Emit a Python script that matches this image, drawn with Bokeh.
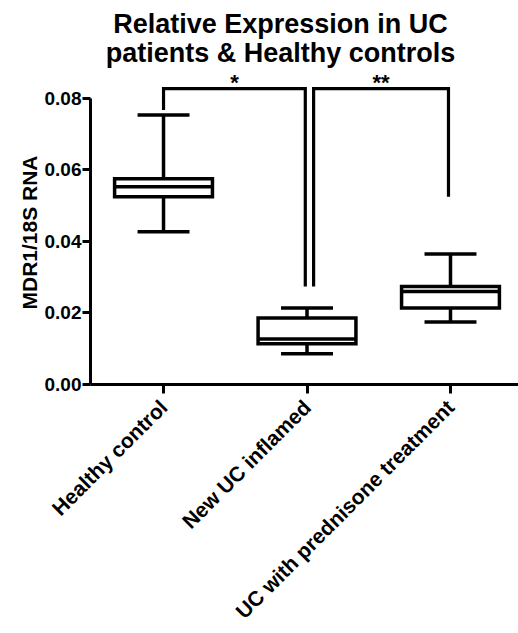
import math
from bokeh.plotting import figure
from bokeh.models import Range1d, FixedTicker, Title
from bokeh.core.properties import value
from bokeh.embed import file_html
from bokeh.resources import INLINE

# ---- data ----
groups = ["Healthy control", "New UC inflamed", "UC with prednisone treatment"]
whisker_low = [0.0427, 0.0086, 0.0175]
q1 = [0.0525, 0.0114, 0.0214]
median = [0.0553, 0.0127, 0.0260]
q3 = [0.0575, 0.0186, 0.0274]
whisker_high = [0.0753, 0.0214, 0.0365]

y_ticks = [0.00, 0.02, 0.04, 0.06, 0.08]
title_lines = ["Relative Expression in UC", "patients & Healthy controls"]
y_label = "MDR1/18S RNA"

# significance brackets (group indices, heights)
sig_from = [0, 1]
sig_to = [1, 2]
sig_text = ["*", "**"]
sig_top = [0.0827, 0.0827]
sig_left_end = [0.0767, 0.0274]
sig_right_end = [0.0274, 0.0525]

FONT = value("Liberation Sans")

xs = [i + 1 for i in range(len(groups))]
BOX_HW = 0.341
CAP_HW = 0.181

p = figure(width=518, height=633, output_backend="svg", toolbar_location=None,
           x_range=Range1d(0.491, 3.474), y_range=Range1d(0, 0.10732),
           min_border_left=90, min_border_right=0, min_border_top=0,
           min_border_bottom=248)
p.outline_line_color = None
p.xgrid.visible = False
p.ygrid.visible = False
p.background_fill_color = "white"

# axes
p.yaxis.ticker = FixedTicker(ticks=y_ticks)
p.yaxis.major_label_overrides = {t: f"{t:.2f}" for t in y_ticks}
p.yaxis.bounds = (y_ticks[0], y_ticks[-1])
p.xaxis.ticker = FixedTicker(ticks=xs)
p.xaxis.major_label_overrides = {x: g for x, g in zip(xs, groups)}
p.xaxis.major_label_orientation = math.pi / 4
for ax in (p.xaxis, p.yaxis):
    ax.axis_line_width = 3
    ax.axis_line_color = "black"
    ax.major_tick_line_width = 3
    ax.major_tick_line_color = "black"
    ax.major_tick_in = 0
    ax.minor_tick_line_color = None
    ax.major_label_text_font = "Liberation Sans"
    ax.major_label_text_font_style = "bold"
    ax.major_label_text_color = "black"
p.yaxis.major_tick_out = 8
p.xaxis.major_tick_out = 9
p.yaxis.major_label_text_font_size = "19px"
p.xaxis.major_label_text_font_size = "21px"
p.yaxis.major_label_standoff = 1
p.xaxis.major_label_standoff = 10

# y axis title, placed like the reference (centred on the axis span)
ytitle = Title(text=y_label, align="left", offset=75, standoff=0,
               vertical_align="middle", text_font="Liberation Sans",
               text_font_style="bold", text_font_size="21px", text_color="black")
p.add_layout(ytitle, "left")

LW = 3.5
# whiskers
p.segment(x0=xs, x1=xs, y0=whisker_low, y1=q1, line_color="black", line_width=LW)
p.segment(x0=xs, x1=xs, y0=q3, y1=whisker_high, line_color="black", line_width=LW)
p.segment(x0=[x - CAP_HW for x in xs], x1=[x + CAP_HW for x in xs],
          y0=whisker_low, y1=whisker_low, line_color="black", line_width=LW)
p.segment(x0=[x - CAP_HW for x in xs], x1=[x + CAP_HW for x in xs],
          y0=whisker_high, y1=whisker_high, line_color="black", line_width=LW)
# boxes
p.quad(left=[x - BOX_HW for x in xs], right=[x + BOX_HW for x in xs],
       bottom=q1, top=q3, fill_color="white", line_color="black",
       line_width=LW, line_join="miter")
p.segment(x0=[x - BOX_HW for x in xs], x1=[x + BOX_HW for x in xs],
          y0=median, y1=median, line_color="black", line_width=LW)

# significance brackets
LEFT_SHIFT = [0.0, 0.046]
RIGHT_SHIFT = [-0.012, -0.014]
bx, by = [], []
for i in range(len(sig_text)):
    xl = xs[sig_from[i]] + LEFT_SHIFT[i]
    xr = xs[sig_to[i]] + RIGHT_SHIFT[i]
    bx.append([xl, xl, xr, xr])
    by.append([sig_left_end[i], sig_top[i], sig_top[i], sig_right_end[i]])
p.multi_line(xs=bx, ys=by, line_color="black", line_width=3.2, line_join="miter")
p.text(x=[(b[0] + b[2]) / 2 for b in bx], y=sig_top, text=sig_text,
       text_font=FONT, text_font_style="bold", text_font_size="22px",
       text_align="center", text_baseline="alphabetic", text_color="black",
       y_offset=-6)

# title
p.text(x=[1.815, 1.815], y=[0.0981, 0.0900], text=title_lines,
       text_font=FONT, text_font_style="bold", text_font_size="27px",
       text_align="center", text_baseline="alphabetic", text_color="black",
       y_offset=-9)

open("out.html", "w").write(file_html(p, INLINE))
